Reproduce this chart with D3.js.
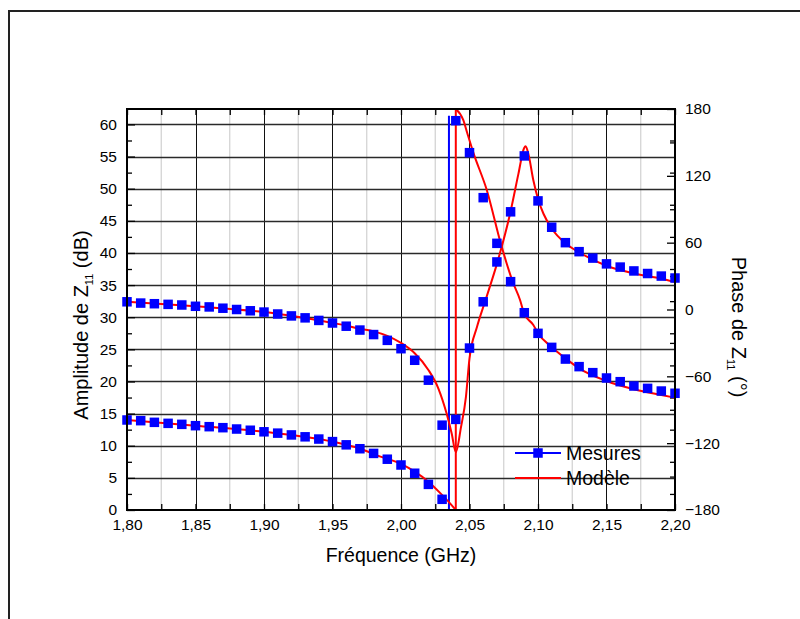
<!DOCTYPE html>
<html><head><meta charset="utf-8">
<script src="https://cdn.jsdelivr.net/npm/d3@7"></script>
<style>body{margin:0;background:#fff}svg{display:block}text{font-family:"Liberation Sans",Arial,sans-serif;fill:#000}</style>
</head><body>
<svg id="c" width="800" height="619"></svg>
<script>
// ---- data ----
const freqs = [1.80,1.81,1.82,1.83,1.84,1.85,1.86,1.87,1.88,1.89,1.90,1.91,1.92,1.93,1.94,1.95,1.96,1.97,1.98,1.99,2.00,2.01,2.02,2.03,2.04,2.05,2.06,2.07,2.08,2.09,2.10,2.11,2.12,2.13,2.14,2.15,2.16,2.17,2.18,2.19,2.20];
const ampMes = [32.4,32.2,32.1,32.0,31.9,31.7,31.6,31.4,31.2,31.0,30.8,30.5,30.2,29.9,29.5,29.1,28.6,28.0,27.3,26.4,25.1,23.3,20.2,13.2,14.1,25.2,32.4,38.6,46.4,55.1,48.1,44.0,41.6,40.2,39.2,38.3,37.8,37.2,36.8,36.4,36.1];
const phaseMes = [-99.2,-99.8,-101.3,-102.2,-103.1,-104.3,-105.2,-106.1,-107.3,-108.4,-109.8,-111.0,-112.6,-114.3,-116.3,-118.6,-121.5,-125.0,-129.2,-134.4,-139.6,-147.0,-157.0,-170.4,169.5,140.8,100.4,59.4,25.0,-2.9,-21.4,-34.0,-44.5,-51.3,-56.7,-61.5,-64.8,-68.7,-70.8,-73.2,-75.2];
// measured phase wrap segment (frequency, phase)
const mesWrapF = [2.035,2.035];
const mesWrapP = [-180,174];
// model amplitude
const modAmpF = [1.80,1.85,1.90,1.95,1.96,1.97,1.98,1.99,2.00,2.01,2.02,2.0273,2.0333,2.037,2.040,2.0438,2.0474,2.05,2.0555,2.0616,2.07,2.0796,2.0857,2.0898,2.091,2.093,2.0966,2.1003,2.104,2.11,2.12,2.13,2.15,2.17,2.19,2.20];
const modAmpV = [32.4,31.7,30.8,29.1,28.7,28.2,27.8,27.1,26.0,24.4,21.8,18.9,15.0,11.9,9.0,12.9,17.6,23.6,28.5,32.6,38.3,46.1,52.3,56.3,56.6,55.4,51.3,48.2,46.1,43.8,41.5,40.1,38.0,36.8,36.0,35.5];
// model phase, before and after the wrap at 2.04 GHz
const modPhaF1 = [1.80,1.85,1.90,1.95,1.97,1.985,2.00,2.01,2.02,2.03,2.0358,2.040];
const modPhaV1 = [-99.2,-104.3,-109.8,-118.6,-125.0,-132.1,-138.6,-145.6,-154.6,-166.5,-174,-180];
const modPhaF2 = [2.040,2.0455,2.0484,2.0528,2.0626,2.0728,2.0815,2.0869,2.0898,2.0966,2.10,2.1097,2.12,2.13,2.15,2.17,2.19,2.20];
const modPhaV2 = [180,170,158.2,140.8,107.3,59.4,25.0,8.5,-3.4,-13.9,-21.4,-33.4,-43.8,-52.8,-64.2,-71.6,-76.8,-79.2];
const xTicks = [1.80,1.85,1.90,1.95,2.00,2.05,2.10,2.15,2.20];
const yLTicks = [0,5,10,15,20,25,30,35,40,45,50,55,60];
const yRTicks = [-180,-120,-60,0,60,120,180];
const legendLabels = ["Mesures","Modèle"];

// ---- layout ----
const L=127,R=675,T=109,B=510;
const svg = d3.select("#c");
const x = d3.scaleLinear([1.8,2.2],[L,R]);
const yL = d3.scaleLinear([0,62.4],[B,T]);
const yR = d3.scaleLinear([-180,180],[B,T]);
const fmt = d => d.toFixed(2).replace(".",",");

// outer frame
svg.append("path").attr("d",`M9,619V11H800`).attr("fill","none").attr("stroke","#222").attr("stroke-width",2);

// grid
const g = svg.append("g");
const minorX = d3.range(0,16).map(i=>1.8+0.025*(2*i+1)).filter(v=>v<2.2);
g.selectAll(".gmx").data(minorX).join("line").attr("x1",d=>x(d)).attr("x2",d=>x(d)).attr("y1",T).attr("y2",B).attr("stroke","#d0d0d0").attr("stroke-width",1.2);
g.selectAll(".gMx").data(xTicks.slice(1,-1)).join("line").attr("x1",d=>Math.round(x(d))+0.5).attr("x2",d=>Math.round(x(d))+0.5).attr("y1",T).attr("y2",B).attr("stroke","#111").attr("stroke-width",1);
g.selectAll(".gMy").data(yLTicks.slice(1)).join("line").attr("y1",d=>Math.round(yL(d))+0.5).attr("y2",d=>Math.round(yL(d))+0.5).attr("x1",L).attr("x2",R).attr("stroke","#2a2a2a").attr("stroke-width",1.3);

// axes
function style(sel){sel.select(".domain").remove();sel.selectAll("line").attr("stroke","#000").attr("stroke-width",1.3);sel.selectAll("text").style("font-size","15.5px").style("font-family","'Liberation Sans',Arial,sans-serif");}
svg.append("g").attr("transform",`translate(${L},0)`).call(d3.axisLeft(yL).tickValues(yLTicks).tickSize(-8).tickPadding(10)).call(style);
svg.append("g").attr("transform",`translate(${L},0)`).call(d3.axisLeft(yL).tickValues(yLTicks.map(v=>v+2.5).filter(v=>v<62.4)).tickSize(-5).tickFormat("")).call(style);
svg.append("g").attr("transform",`translate(${R},0)`).call(d3.axisRight(yL).tickValues(yLTicks.map(v=>v+2.5).filter(v=>v<62.4)).tickSize(-5).tickFormat("")).call(style);
svg.append("g").attr("transform",`translate(${R},0)`).call(d3.axisRight(yR).tickValues(yRTicks).tickSize(-8).tickPadding(10)).call(style);
svg.append("g").attr("transform",`translate(${R},0)`).call(d3.axisRight(yR).tickValues(yRTicks.slice(0,-1).map(v=>v+30)).tickSize(-5).tickFormat("")).call(style);
svg.append("g").attr("transform",`translate(0,${B})`).call(d3.axisBottom(x).tickValues(xTicks).tickSize(-6).tickPadding(9).tickFormat(fmt)).call(style);
svg.append("g").attr("transform",`translate(0,${B})`).call(d3.axisBottom(x).tickValues(minorX).tickSize(-6).tickFormat("")).call(style);
svg.append("g").attr("transform",`translate(0,${T})`).call(d3.axisTop(x).tickValues(xTicks.concat(minorX)).tickSize(-6).tickFormat("")).call(style);

// clip
svg.append("clipPath").attr("id","cp").append("rect").attr("x",L).attr("y",T-1).attr("width",R-L).attr("height",B-T+2);
const p = svg.append("g").attr("clip-path","url(#cp)");

// measured wrap line
p.append("path").datum(mesWrapF.map((f,i)=>[f,mesWrapP[i]]))
 .attr("d",d3.line().x(d=>x(d[0])).y(d=>yR(d[1])))
 .attr("stroke","#0000ff").attr("stroke-width",2).attr("fill","none");

// model lines
const lineL = d3.line().x(d=>x(d[0])).y(d=>yL(d[1])).curve(d3.curveMonotoneX);
const lineR = d3.line().x(d=>x(d[0])).y(d=>yR(d[1])).curve(d3.curveMonotoneX);
const red = s=>s.attr("stroke","#ff0000").attr("stroke-width",2).attr("fill","none").attr("stroke-linejoin","round");
p.append("path").datum(modAmpF.map((f,i)=>[f,modAmpV[i]])).attr("d",lineL).call(red);
p.append("path").datum(modPhaF1.map((f,i)=>[f,modPhaV1[i]])).attr("d",lineR).call(red);
p.append("path").datum(modPhaF2.map((f,i)=>[f,modPhaV2[i]])).attr("d",lineR).call(red);
p.append("path").datum([[modPhaF1[modPhaF1.length-1],modPhaV1[modPhaV1.length-1]],[modPhaF2[0],modPhaV2[0]]])
 .attr("d",d3.line().x(d=>x(d[0])).y(d=>yR(d[1]))).call(red);

// measured squares
const S=9.5;
svg.append("g").selectAll("rect").data(freqs.map((f,i)=>[f,ampMes[i]])).join("rect")
 .attr("x",d=>x(d[0])-S/2).attr("y",d=>yL(d[1])-S/2).attr("width",S).attr("height",S).attr("fill","#0000ff");
svg.append("g").selectAll("rect").data(freqs.map((f,i)=>[f,phaseMes[i]])).join("rect")
 .attr("x",d=>x(d[0])-S/2).attr("y",d=>yR(d[1])-S/2).attr("width",S).attr("height",S).attr("fill","#0000ff");

// frame
svg.append("rect").attr("x",L).attr("y",T).attr("width",R-L).attr("height",B-T).attr("fill","none").attr("stroke","#000").attr("stroke-width",2);

// legend
const lg = svg.append("g");
lg.append("line").attr("x1",515).attr("x2",561).attr("y1",453).attr("y2",453).attr("stroke","#0000ff").attr("stroke-width",2);
lg.append("rect").attr("x",538-S/2).attr("y",453-S/2).attr("width",S).attr("height",S).attr("fill","#0000ff");
lg.append("line").attr("x1",515).attr("x2",561).attr("y1",478).attr("y2",478).attr("stroke","#ff0000").attr("stroke-width",2);
lg.selectAll("text").data(legendLabels).join("text").attr("x",566).attr("y",(d,i)=>453+25*i).attr("dy","0.36em").style("font-size","19.5px").text(d=>d);

// titles
svg.append("text").attr("x",(L+R)/2).attr("y",562).attr("text-anchor","middle").style("font-size","19.5px").text("Fréquence (GHz)");
const lt = svg.append("text").attr("transform","translate(88,325) rotate(-90)").attr("text-anchor","middle").style("font-size","20px");
lt.append("tspan").text("Amplitude de Z");
lt.append("tspan").attr("dy",5).style("font-size","11px").text("11");
lt.append("tspan").attr("dy",-5).text(" (dB)");
const rt = svg.append("text").attr("transform","translate(732,327) rotate(90)").attr("text-anchor","middle").style("font-size","20px");
rt.append("tspan").text("Phase de Z");
rt.append("tspan").attr("dy",5).style("font-size","11px").text("11");
rt.append("tspan").attr("dy",-5).text(" (°)");
</script>
</body></html>
